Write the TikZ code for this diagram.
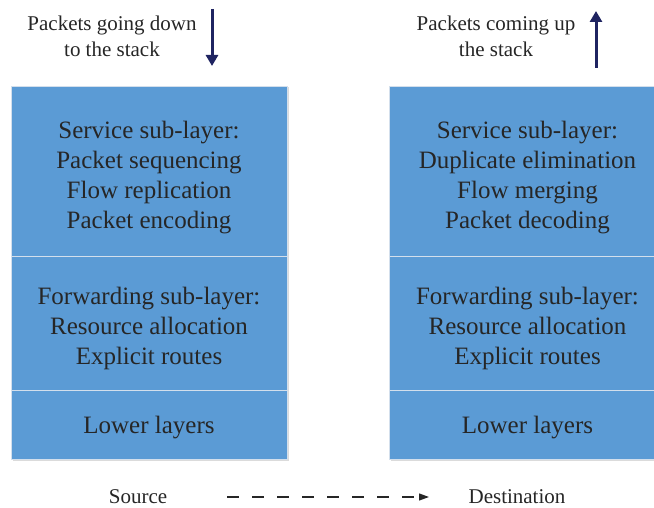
\documentclass[tikz,border=0pt]{standalone}
\usepackage{fontspec}
\setmainfont{Liberation Serif}
\usetikzlibrary{arrows.meta}
\definecolor{layerblue}{HTML}{5B9BD5}
\definecolor{layeredge}{HTML}{D3DFEC}
\definecolor{navy}{HTML}{1F2461}
\definecolor{ink}{HTML}{262626}
\tikzset{
  layer/.style={draw=layeredge, line width=0.8pt, fill=layerblue,
    minimum width=276pt, inner sep=0pt},
  layertext/.style={align=center, text=ink, inner sep=0pt,
    font=\fontsize{25}{30}\selectfont},
  caption/.style={align=center, text=ink, inner sep=0pt,
    font=\fontsize{21}{26}\selectfont},
  flow/.style={navy, line width=3pt, -{Triangle[length=11pt,width=12pt]}},
  shade/.style={fill=black!14}
}
\begin{document}
\begin{tikzpicture}[x=1pt,y=-1pt]
\useasboundingbox (0,0) rectangle (654,508);
\clip (0,0) rectangle (654,508);

% soft shadows behind both stacks
\fill[shade] (12.5,87.5) rectangle (288.5,460.5);
\fill[shade] (390.5,87.5) rectangle (666.5,460.5);

% sending stack
\node[layer, minimum height=170pt] (ls) at (149,171) {};
\node[layer, minimum height=134pt] (lf) at (149,323) {};
\node[layer, minimum height=69pt] (ll) at (149,424.5) {};
\node[layertext] (lst) at ([yshift=-7pt]ls.center)
  {Service sub-layer:\\Packet sequencing\\Flow replication\\Packet encoding};
\node[layertext] (lft) at ([yshift=-5pt]lf.center)
  {Forwarding sub-layer:\\Resource allocation\\Explicit routes};
\node[layertext] (llt) at ([yshift=-3pt]ll.center) {Lower layers};

% receiving stack
\node[layer, minimum height=170pt] (rs) at (527.5,171) {};
\node[layer, minimum height=134pt] (rf) at (527.5,323) {};
\node[layer, minimum height=69pt] (rl) at (527.5,424.5) {};
\node[layertext] (rst) at ([yshift=-7pt]rs.center)
  {Service sub-layer:\\Duplicate elimination\\Flow merging\\Packet decoding};
\node[layertext] (rft) at ([yshift=-5pt]rf.center)
  {Forwarding sub-layer:\\Resource allocation\\Explicit routes};
\node[layertext] (rlt) at ([yshift=-3pt]rl.center) {Lower layers};

% direction captions and arrows
\node[caption] (down) at (112,36) {Packets going down\\to the stack};
\node[caption] (up) at (496,36) {Packets coming up\\the stack};
\coordinate (d0) at (212,9);
\coordinate (d1) at (212,66);
\coordinate (u0) at (596,68);
\coordinate (u1) at (596,11);
\draw[flow] (d0) -- (d1);
\draw[flow] (u0) -- (u1);

% source to destination
\node[caption] (src) at (138,497) {Source};
\node[caption] (dst) at (517,497) {Destination};
\coordinate (p0) at (227,497);
\coordinate (p1) at (429,497);
\draw[ink, line width=1.2pt, dash pattern=on 12pt off 13pt,
      -{Triangle[length=10pt,width=7pt]}] (p0) -- (p1);
\end{tikzpicture}
\end{document}
